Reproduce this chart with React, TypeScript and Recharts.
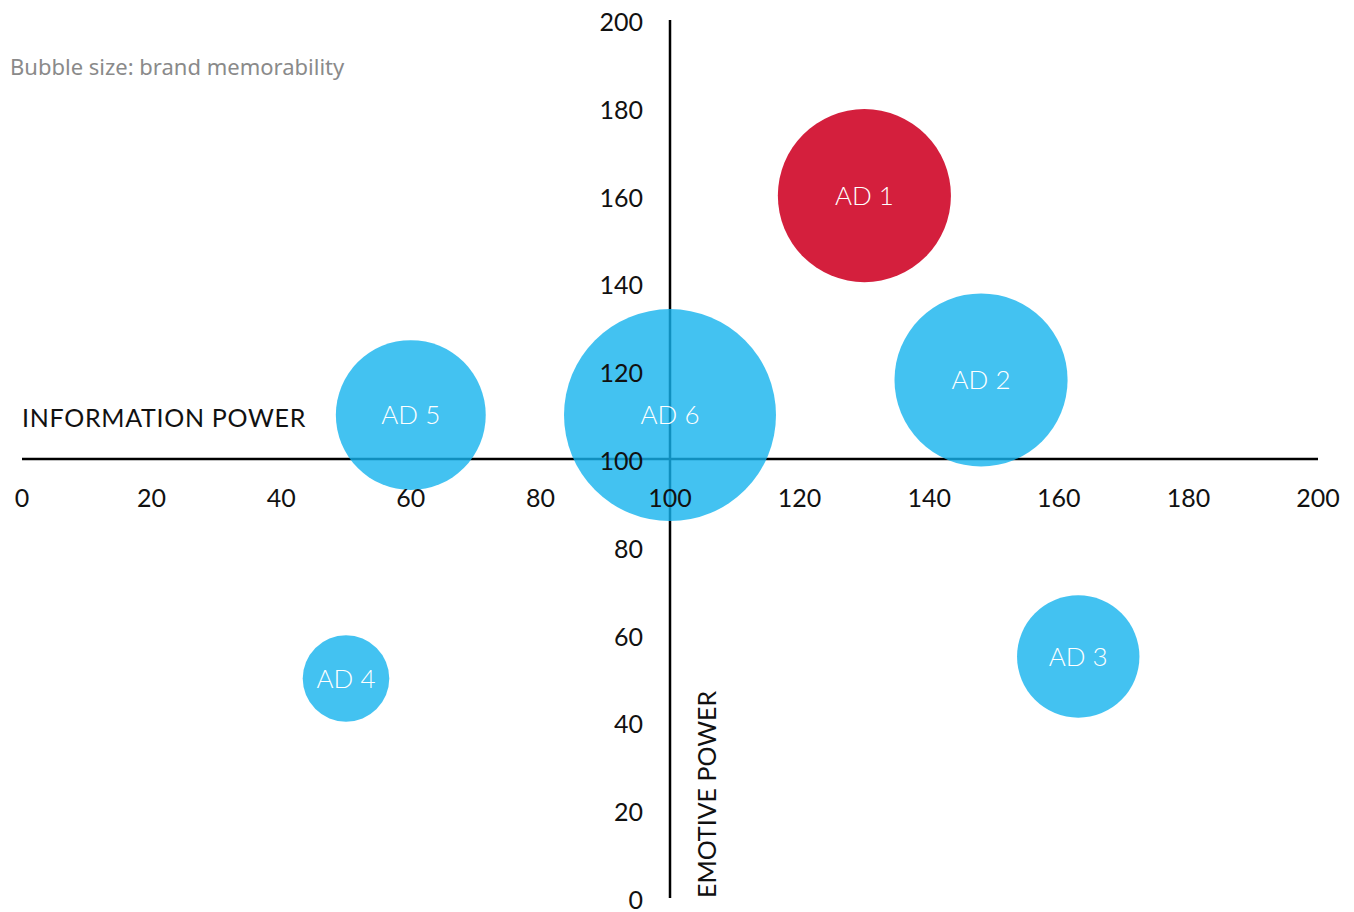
import { ScatterChart, Scatter, XAxis, YAxis, ZAxis, ReferenceLine } from "recharts";

const ads = ["AD 1", "AD 2", "AD 3", "AD 4", "AD 5", "AD 6"];
const informationPower = [130, 148, 163, 50, 60, 100];
const emotivePower = [160, 118, 55, 50, 110, 110];
const memorability = [40, 40, 20, 10, 30, 60];
const xTicks = [0, 20, 40, 60, 80, 100, 120, 140, 160, 180, 200];
const yTicks = [0, 20, 40, 60, 80, 100, 120, 140, 160, 180, 200];
const highlighted = "AD 1";

const data = ads.map((name, i) => ({
  name,
  x: informationPower[i],
  y: emotivePower[i],
  z: memorability[i],
}));

const WIDTH = 1354;
const HEIGHT = 912;
const MARGIN = { top: 20, right: 36, bottom: 0, left: 0 };
const X_AXIS_H = 14;
const Y_AXIS_W = 22;
const PLOT_W = WIDTH - Y_AXIS_W - MARGIN.right;
const PLOT_H = HEIGHT - MARGIN.top - X_AXIS_H;
const FONT = "Lato, 'Noto Sans', sans-serif";
const MAX_R = 106;

const XTick = (props: any) => {
  const { x, payload } = props;
  return (
    <text
      x={x}
      y={MARGIN.top + PLOT_H / 2 + 48}
      textAnchor="middle"
      fontFamily={FONT}
      fontSize={25}
      fill="#111"
    >
      {payload.value}
    </text>
  );
};

const YTick = (props: any) => {
  const { y, payload } = props;
  return (
    <text
      x={Y_AXIS_W + PLOT_W / 2 - 27}
      y={y + 11}
      textAnchor="end"
      fontFamily={FONT}
      fontSize={25}
      fill="#111"
    >
      {payload.value}
    </text>
  );
};

const Bubble = (props: any) => {
  const { cx, cy, width, payload } = props;
  const isHot = payload.name === highlighted;
  return (
    <g>
      <circle
        cx={cx}
        cy={cy}
        r={width / 2}
        fill={isHot ? "#D41F3D" : "#14B3EE"}
        fillOpacity={isHot ? 1 : 0.8}
      />
      <text
        x={cx}
        y={cy}
        dy="0.36em"
        textAnchor="middle"
        fontFamily={FONT}
        fontWeight={300}
        fontSize={26}
        fill="#fff"
      >
        {payload.name}
      </text>
    </g>
  );
};

const XTitle = (props: any) => {
  const { viewBox } = props;
  return (
    <text
      x={viewBox.x}
      y={viewBox.y - 32}
      fontFamily={FONT}
      fontSize={25}
      letterSpacing={0.7}
      fill="#111"
    >
      INFORMATION POWER
    </text>
  );
};

const YTitle = (props: any) => {
  const { viewBox } = props;
  const x = viewBox.x + 46;
  const y = viewBox.y + viewBox.height;
  return (
    <text
      x={x}
      y={y}
      transform={`rotate(-90, ${x}, ${y})`}
      fontFamily={FONT}
      fontSize={25}
      fill="#111"
    >
      EMOTIVE POWER
    </text>
  );
};

export default function App() {
  return (
    <div style={{ position: "absolute", left: 0, top: 0, width: WIDTH, height: HEIGHT, background: "#fff" }}>
      <div
        style={{
          position: "absolute",
          left: 10,
          top: 51,
          fontFamily: "'Noto Sans', sans-serif",
          fontSize: 22,
          color: "#8a8a8a",
          lineHeight: "30px",
          whiteSpace: "nowrap",
        }}
      >
        Bubble size: brand memorability
      </div>
      <ScatterChart width={WIDTH} height={HEIGHT} margin={MARGIN}>
        <XAxis
          type="number"
          dataKey="x"
          domain={[0, 200]}
          ticks={xTicks}
          height={X_AXIS_H}
          axisLine={false}
          tickLine={false}
          tick={<XTick />}
          interval={0}
        />
        <YAxis
          type="number"
          dataKey="y"
          domain={[0, 200]}
          ticks={yTicks}
          width={Y_AXIS_W}
          axisLine={false}
          tickLine={false}
          tick={<YTick />}
          interval={0}
        />
        <ZAxis type="number" dataKey="z" domain={[0, 60]} range={[0, Math.PI * MAX_R * MAX_R]} />
        <ReferenceLine y={100} stroke="#000" strokeWidth={2.5} label={<XTitle />} />
        <ReferenceLine x={100} stroke="#000" strokeWidth={2.5} label={<YTitle />} />
        <Scatter data={data} shape={<Bubble />} isAnimationActive={false} />
      </ScatterChart>
    </div>
  );
}
